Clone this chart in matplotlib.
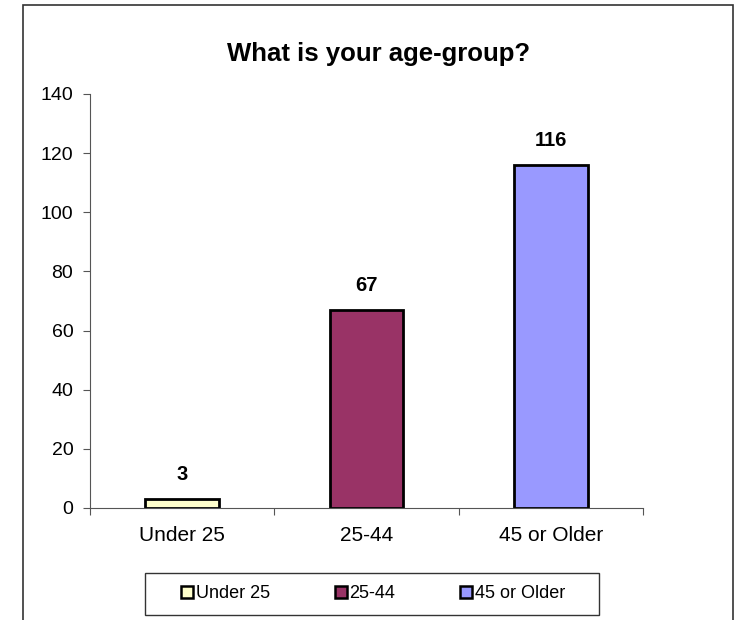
import matplotlib
matplotlib.use('Agg')
import matplotlib.pyplot as plt
from matplotlib.patches import Rectangle

categories = ['Under 25', '25-44', '45 or Older']
counts = [3, 67, 116]
colors = ['#FFFFCC', '#993366', '#9999FF']
y_ticks = [0, 20, 40, 60, 80, 100, 120, 140]

plt.rcParams['font.family'] = ['Liberation Sans', 'DejaVu Sans']

fig = plt.figure(figsize=(7.42, 6.2), dpi=100)

# outer chart border
fig.patches.append(Rectangle((23 / 742, -0.01), 710 / 742, 1 - 5 / 620 + 0.01,
                             transform=fig.transFigure, fill=False,
                             edgecolor='#333333', linewidth=1.2))

ax = fig.add_axes([90 / 742, 1 - 508 / 620, 553 / 742, 414 / 620])
x = range(len(categories))
bars = ax.bar(x, counts, width=0.4, color=colors, edgecolor='black',
              linewidth=2, label=categories)

for xi, v in zip(x, counts):
    ax.annotate(str(v), (xi, v), xytext=(0, 11), textcoords='offset points',
                ha='center', va='bottom', fontsize=14.5, fontweight='bold')

ax.set_xlim(-0.5, 2.5)
ax.set_ylim(0, 140)
ax.set_yticks(y_ticks)
ax.set_xticks([-0.5, 0.5, 1.5, 2.5], minor=False)
ax.set_xticklabels([])
ax.set_xticks(list(x), minor=True)
ax.set_xticklabels(categories, minor=True)
ax.tick_params(axis='x', which='minor', length=0, pad=13, labelsize=15)
ax.tick_params(axis='x', which='major', length=5, direction='out', color='#555555')
ax.tick_params(axis='y', length=5, direction='out', labelsize=14, color='#555555', pad=7)

for side in ['top', 'right']:
    ax.spines[side].set_visible(False)
ax.spines['left'].set_color('#555555')
ax.spines['bottom'].set_color('#555555')

fig.text(379 / 742, 1 - 54 / 620, 'What is your age-group?', ha='center',
         va='center', fontsize=18.5, fontweight='bold')

# legend box drawn separately, legend entries centred inside it
fig.patches.append(Rectangle((145 / 742, 1 - 615 / 620), 454 / 742, 42 / 620,
                             transform=fig.transFigure, fill=False,
                             edgecolor='#333333', linewidth=1.0))
leg = fig.legend(bars, categories, loc='center', ncol=3,
                 bbox_to_anchor=(373 / 742, 1 - 594 / 620),
                 frameon=False, fontsize=13, columnspacing=3.6,
                 handlelength=0.65, handleheight=0.65, handletextpad=0.15)
for h in leg.legend_handles:
    h.set_linewidth(1.8)

fig.savefig('out.png', dpi=100, facecolor='white')
